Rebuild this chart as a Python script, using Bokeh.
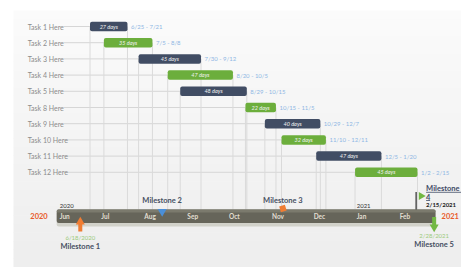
import numpy as np
import pandas as pd
from bokeh.plotting import figure
from bokeh.models import Range1d
from bokeh.core.properties import value
from bokeh.embed import file_html
from bokeh.resources import INLINE

# ---------------- data ----------------
tasks = ["Task 1 Here", "Task 2 Here", "Task 3 Here", "Task 4 Here", "Task 5 Here",
         "Task 8 Here", "Task 9 Here", "Task 10 Here", "Task 11 Here", "Task 12 Here"]
task_starts = ["2020-06-25", "2020-07-05", "2020-07-30", "2020-08-20", "2020-08-29",
               "2020-10-15", "2020-10-29", "2020-11-10", "2020-12-05", "2021-01-02"]
task_ends = ["2020-07-21", "2020-08-08", "2020-09-12", "2020-10-05", "2020-10-15",
             "2020-11-05", "2020-12-07", "2020-12-11", "2021-01-20", "2021-02-15"]
durations = [27, 35, 45, 47, 48, 22, 40, 32, 47, 45]
range_labels = ["6/25 - 7/21", "7/5 - 8/8", "7/30 - 9/12", "8/20 - 10/5", "8/29 - 10/15",
                "10/15 - 11/5", "10/29 - 12/7", "11/10 - 12/11", "12/5 - 1/20", "1/2 - 2/15"]
task_colors = ["#414d64", "#6cae3c", "#414d64", "#6cae3c", "#414d64",
               "#6cae3c", "#414d64", "#6cae3c", "#414d64", "#6cae3c"]

months = ["Jun", "Jul", "Aug", "Sep", "Oct", "Nov", "Dec", "Jan", "Feb"]
month_starts = ["2020-06-01", "2020-07-01", "2020-08-01", "2020-09-01", "2020-10-01",
                "2020-11-01", "2020-12-01", "2021-01-01", "2021-02-01"]
timeline_start = "2020-06-01"
timeline_end = "2021-03-01"
years = ["2020", "2021"]
year_starts = ["2020-06-01", "2021-01-01"]

milestones = ["Milestone 1", "Milestone 2", "Milestone 3", "Milestone 4", "Milestone 5"]
milestone_dates = ["2020-06-18", "2020-08-16", "2020-11-11", "2021-02-15", "2021-02-28"]
milestone_date_labels = ["6/18/2020", "8/16/2020", "11/11/2020", "2/15/2021", "2/28/2021"]

# ---------------- helpers ----------------
DAY = 86400000.0
PX_PER_DAY = 1.3877
ORIGIN_PX = 56.2          # pixel column of timeline start


def ms(s):
    return pd.Timestamp(s).value / 1e6


T0 = ms(timeline_start)


def px(X):
    """pixel column -> time value (for decoration placement)"""
    return T0 + (X - ORIGIN_PX) / PX_PER_DAY * DAY


def shift(t, dpx):
    return t + dpx / PX_PER_DAY * DAY


FONT = value("Lato")

p = figure(width=461, height=268, output_backend="svg", toolbar_location=None,
           x_range=Range1d(px(0), px(461)), y_range=Range1d(268, 0),
           min_border=0, background_fill_color="white", border_fill_color="white")
p.axis.visible = False
p.grid.visible = False
p.outline_line_color = None

# background panel with soft vertical gradient
n_strips = 30
edges = np.linspace(10, 266, n_strips + 1)
shades = np.linspace(251, 238, n_strips).astype(int)
p.quad(left=px(13), right=px(461), top=edges[:-1], bottom=edges[1:] + 0.5,
       color=["#%02x%02x%02x" % (s, s, s) for s in shades], line_color=None)

rows = 26 + 16.2 * np.arange(len(tasks))
starts_ms = np.array([ms(s) for s in task_starts])
ends_ms = np.array([ms(s) for s in task_ends]) + DAY

# leader lines from label to bar
p.segment(x0=px(63), x1=starts_ms, y0=rows, y1=rows, line_color="#d6d6d6", line_width=1)
# vertical drop lines at bar edges
TL_TOP = 209
p.segment(x0=starts_ms, x1=starts_ms, y0=rows, y1=TL_TOP, line_color="#dadada", line_width=1)
p.segment(x0=ends_ms, x1=ends_ms, y0=rows, y1=TL_TOP, line_color="#dadada", line_width=1)

# task labels
p.text(x=T0, y=rows, text=tasks, x_offset=-29, text_align="left", text_baseline="middle",
       text_font=FONT, text_font_size="7px", text_color="#8c8c8c")

# task bars
p.hbar(y=rows, left=starts_ms, right=ends_ms, height=9.5, fill_color=task_colors,
       line_color=None, border_radius=2)
p.text(x=(starts_ms + ends_ms) / 2, y=rows, text=[f"{d} days" for d in durations],
       text_align="center", text_baseline="middle", text_font=FONT, text_font_size="5.5px",
       text_font_style="italic", text_color="#f2f2f2")
p.text(x=ends_ms, y=rows, text=range_labels, x_offset=3.5, text_align="left",
       text_baseline="middle", text_font=FONT, text_font_size="6px", text_color="#8fb7e4")

# timeline band
TE = ms(timeline_end)
p.quad(left=T0, right=TE, top=TL_TOP + 2, bottom=226, color="#d2d2ca", line_color=None,
       border_radius=2)
p.quad(left=T0, right=TE, top=TL_TOP, bottom=222.5, color="#66655a", line_color=None,
       border_radius=2)
p.quad(left=T0, right=TE, top=TL_TOP, bottom=212, color="#7b7a6d", line_color=None,
       border_radius=2)
p.text(x=[ms(m) for m in month_starts], y=216, text=months, x_offset=3, text_align="left",
       text_baseline="middle", text_font=FONT, text_font_size="6.5px",
       text_font_style="bold", text_color="#e2dfd2")
p.text(x=[ms(y) for y in year_starts], y=205, text=years, x_offset=3, text_align="left",
       text_baseline="middle", text_font=FONT, text_font_size="6px", text_color="#333333")
p.text(x=[T0, TE], y=215.5, text=years, x_offset=[-9, 6], text_align=["right", "left"],
       text_baseline="middle", text_font=FONT, text_font_size="7.5px",
       text_font_style="bold", text_color="#e85a2a")

md = [ms(d) for d in milestone_dates]
NAVY = "#465063"
ORANGE = "#f07d33"
GREEN = "#72b843"

# Milestone 1 : orange up arrow below
p.rect(x=md[0], y=227, width=4, height=8, width_units="screen", color=ORANGE, line_color=None)
p.scatter(x=md[0], y=221.5, marker="triangle", size=9, color=ORANGE, line_color=None)
p.text(x=md[0], y=237, text=[milestone_date_labels[0]], text_align="center",
       text_baseline="middle", text_font=FONT, text_font_size="6px", text_color="#9ccb7c")
p.text(x=md[0], y=246, text=[milestones[0]], text_align="center", text_baseline="middle",
       text_font=FONT, text_font_size="7.5px", text_font_style="bold", text_color=NAVY)

# Milestone 2 : blue marker on top of band
p.scatter(x=md[1], y=211, marker="inverted_triangle", size=9, color="#4a8fd8", line_color=None)
p.text(x=md[1], y=199.5, text=[milestones[1]], text_align="center", text_baseline="middle",
       text_font=FONT, text_font_size="7.5px", text_font_style="bold", text_color=NAVY)

# Milestone 3 : orange tile
p.scatter(x=md[2], y=208, marker="square", size=6, angle=0.3, color=ORANGE, line_color=None)
p.text(x=md[2], y=199.5, text=[milestones[2]], text_align="center", text_baseline="middle",
       text_font=FONT, text_font_size="7.5px", text_font_style="bold", text_color=NAVY)

# Milestone 4 : flag
p.segment(x0=md[3], x1=md[3], y0=191.5, y1=TL_TOP, line_color="#2b2b2b", line_width=1.2)
p.scatter(x=shift(md[3], 5), y=195.5, marker="triangle", angle=-np.pi / 2, size=8,
          color=GREEN, line_color=None)
p.text(x=md[3], y=[188, 196.5], text=["Milestone", "4"], x_offset=10, text_align="left",
       text_baseline="middle", text_font=FONT, text_font_size="7.5px",
       text_font_style="bold", text_color="#3f4b66")
p.segment(x0=shift(md[3], 10), x1=px(460.5), y0=191.8, y1=191.8,
          line_color="#3f4b66", line_width=0.8)
p.segment(x0=shift(md[3], 10), x1=shift(md[3], 14), y0=200, y1=200,
          line_color="#3f4b66", line_width=0.8)
p.text(x=md[3], y=204.3, text=[milestone_date_labels[3]], x_offset=10, text_align="left",
       text_baseline="middle", text_font=FONT, text_font_size="6px",
       text_font_style="bold", text_color="#222222")

# Milestone 5 : green down arrow
p.rect(x=md[4], y=220.5, width=4, height=8, width_units="screen", color=GREEN, line_color=None)
p.scatter(x=md[4], y=226.5, marker="inverted_triangle", size=9, color=GREEN, line_color=None)
p.text(x=md[4], y=235, text=[milestone_date_labels[4]], text_align="center",
       text_baseline="middle", text_font=FONT, text_font_size="6px", text_color="#9ccb7c")
p.text(x=md[4], y=244, text=[milestones[4]], text_align="center", text_baseline="middle",
       text_font=FONT, text_font_size="7.5px", text_font_style="bold", text_color=NAVY)

open("out.html", "w").write(file_html(p, INLINE))
